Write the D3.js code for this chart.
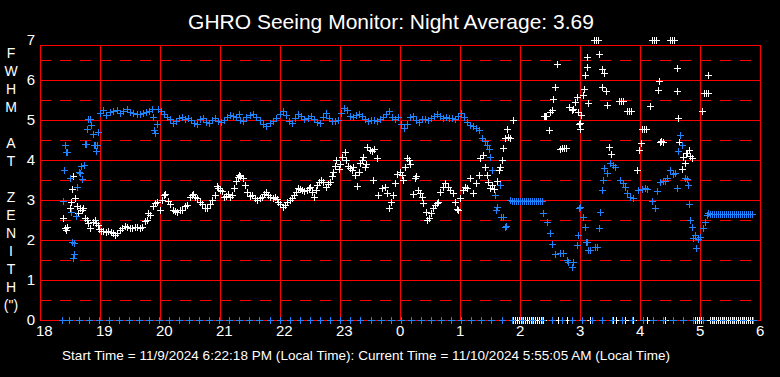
<!DOCTYPE html>
<html>
<head>
<meta charset="utf-8">
<script src="https://cdn.jsdelivr.net/npm/d3@7"></script>
<style>
  html, body { margin: 0; padding: 0; background: #000; }
  svg text { font-family: "Liberation Sans", Arial, sans-serif; fill: #fff; }
</style>
</head>
<body>
<div id="seeing-chart"></div>
<script>
// minutes after 18:00 local, FWHM in arcsec
var blueSeries = [
  [23,2.98],[24,3.74],[25,4.37],[26,4.19],[27,4.2],[30,3.56],[31,2.69],[32,1.94],[33,1.54],[34,1.93],[34,1.64],[36,2.6],[37,3.33],[39,3.69],[40,3.67],[41,3.84],[42,3.52],[44,3.87],[45,4.39],[46,4.4],[47,4.77],[48,5.02],[50,5.02],[51,4.88],[53,4.64],[54,4.38],[55,4.37],[56,4.22],[57,4.38],[58,4.69],
  [60,5.17],[63,5.25],[66,5.12],[70,5.2],[73,5.22],[77,5.25],[80,5.17],[83,5.22],[87,5.27],[90,5.2],[93,5.17],[97,5.15],[100,5.15],[103,5.17],[106,5.2],[109,5.22],[112,5.27],[113,5.07],[114,4.75],[115,4.68],[117,4.9],[118,5.27],[121,5.22],[124,5.15],[127,5.07],[130,5.02],[133,4.92],[136,4.97],[139,5.05],[142,5.07],[145,5.02],[148,5.05],[151,5.0],[154,4.92],[157,4.9],[160,5.02],[163,5.05],[166,4.95],[169,4.92],[172,5.0],[175,5.05],[178,4.97],[181,4.95],[184,5.0],[187,5.07],[190,5.12],[193,5.1],[196,5.07],[199,5.15],
  [200,5.0],[203,4.97],[206,5.07],[210,5.12],[213,5.15],[216,5.07],[220,5.0],[223,4.9],[226,4.85],[230,4.92],[233,4.97],[236,5.05],[240,5.15],[243,5.22],[246,5.12],[249,4.97],[252,4.92],[255,5.05],[258,5.15],[261,5.1],[264,5.02],[268,5.05],[271,5.1],[274,5.02],[277,4.95],[280,4.92],[283,5.07],[286,5.17],[289,5.05],[292,4.97],[295,4.97],[298,5.0],
  [301,5.17],[304,5.3],[307,5.25],[310,5.1],[313,5.07],[316,5.12],[319,5.15],[322,5.1],[325,5.02],[328,4.97],[331,5.0],[334,5.0],[337,4.97],[340,5.02],[343,5.07],[346,5.15],[349,5.22],[352,5.07],[355,5.02],[358,5.07],[361,4.9],[364,4.8],[367,4.9],[370,5.07],[373,5.1],[376,5.0],[379,4.95],[382,5.02],[385,5.02],[388,5.0],[391,5.05],[394,5.1],[397,5.15],
  [400,5.1],[403,5.05],[406,5.07],[409,5.05],[412,5.05],[415,5.02],[418,5.1],[421,5.17],[424,5.07],[427,4.95],[430,4.87],[433,4.85],[436,4.8],[439,4.75],[442,4.55],[445,4.47],[447,4.37],[449,4.27],[450,4.08],[452,3.75],[455,3.12],[456,2.75],[457,2.83],[460,3.37],[461,2.58],[463,2.58],[465,2.33],[466,2.35],[470,3.0],
  [472,2.97],[474,2.97],[476,2.97],[478,2.97],[480,2.97],[482,2.97],[484,2.97],[486,2.97],[488,2.97],[490,2.97],[492,2.97],[494,2.97],[496,2.97],[498,2.97],[500,2.97],[502,2.97],
  [503,2.67],[507,2.45],[510,2.17],[512,1.9],[515,1.65],[520,1.67],[523,1.67],[527,1.5],[528,1.46],[532,1.33],[533,1.45],[537,1.87],[538,2.12],[539,2.79],[540,2.83],[543,2.58],[545,2.33],[546,1.96],[547,1.96],[548,1.75],[550,1.75],[555,1.83],[557,1.83],[559,2.29],[560,2.71],[562,3.25],[563,3.5],[564,3.79],[567,3.67],[570,3.92],[573,3.87],[575,3.83],[580,3.5],[583,3.42],[585,3.33],[587,3.17],[590,3.07],[593,3.04],[598,3.25],
  [602,3.27],[605,3.29],[607,3.27],[612,2.98],[615,2.79],[617,3.22],[620,3.46],[623,3.48],[625,3.48],[627,3.55],[630,3.75],[633,3.65],[635,3.67],[637,3.29],[638,4.22],[640,4.62],[642,4.37],[645,3.55],[647,3.52],[648,3.37],[649,2.9],[650,2.5],[652,2.33],[653,2.04],[655,2.12],[656,1.79],[658,2.02],[660,2.07],[663,2.3],[665,2.46],[667,2.62],[668,2.67],
  [670,2.64],[672,2.64],[674,2.64],[676,2.64],[678,2.64],[680,2.64],[682,2.64],[684,2.64],[686,2.64],[688,2.64],[690,2.64],[692,2.64],[694,2.64],[696,2.64],[698,2.64],[700,2.64],[702,2.64],[704,2.64],[706,2.64],[708,2.64],[710,2.64],[712,2.64]
];

var whiteSeries = [
  [23,2.56],[25,2.3],[26,2.25],[27,2.32],[30,2.79],[31,2.96],[32,3.27],[33,3.61],[35,3.04],[37,2.85],[38,2.67],[40,2.8],[42,2.74],[43,2.79],[45,2.56],[47,2.5],[48,2.42],[50,2.29],[53,2.46],[55,2.5],[56,2.42],[58,2.37],[59,2.27],
  [61,2.22],[63,2.22],[66,2.21],[68,2.22],[71,2.21],[73,2.18],[75,2.12],[77,2.17],[80,2.25],[82,2.3],[85,2.36],[87,2.33],[90,2.29],[92,2.3],[95,2.32],[97,2.33],[100,2.29],[102,2.33],[105,2.47],[107,2.5],[108,2.67],[110,2.62],[113,2.85],[115,2.92],[117,2.96],[120,2.75],
  [122,3.0],[124,3.12],[125,3.14],[128,2.98],[130,2.9],[133,2.75],[135,2.72],[137,2.71],[140,2.75],[142,2.74],[145,2.85],[147,2.87],[150,3.08],[152,3.12],[153,3.14],[155,3.07],[157,3.04],[160,2.96],[162,2.9],[165,2.8],[167,2.79],[170,2.9],[172,3.0],[175,3.12],[177,3.35],[178,3.29],
  [180,3.25],[182,3.22],[184,3.08],[186,3.1],[188,3.14],[190,3.08],[192,3.12],[194,3.3],[196,3.48],[198,3.58],[199,3.62],[200,3.61],[203,3.54],[205,3.37],[207,3.21],[210,3.1],[212,3.12],[215,3.05],[217,3.0],[220,3.05],[222,3.08],[224,3.15],[226,3.19],[228,3.12],[230,3.08],[233,3.05],[235,3.08],[237,3.03],[238,2.96],
  [240,2.9],[243,2.83],[245,2.88],[247,2.96],[250,3.0],[252,3.05],[254,3.12],[256,3.2],[258,3.29],[260,3.27],[262,3.25],[264,3.22],[267,3.25],[269,3.3],[270,3.33],[272,3.2],[274,3.08],[276,3.25],[277,3.37],[279,3.45],[281,3.5],[283,3.45],[286,3.33],[288,3.4],[290,3.44],[292,3.6],[293,3.71],[295,3.85],[296,4.0],[299,3.77],
  [300,3.9],[302,4.08],[305,4.21],[306,4.0],[308,3.85],[310,3.79],[312,3.75],[313,3.83],[315,3.62],[317,3.36],[319,3.7],[320,3.92],[322,4.0],[323,4.08],[325,3.83],[326,3.9],[327,4.33],[330,4.25],[332,4.22],[333,3.5],[334,4.27],[337,4.04],[338,3.12],[342,3.29],[345,3.33],[347,3.17],[349,2.79],[351,2.96],[353,3.12],[355,3.42],[357,3.64],
  [360,3.69],[362,3.62],[363,3.5],[365,3.83],[367,4.06],[369,4.0],[370,3.89],[373,3.14],[375,3.54],[376,3.6],[378,3.25],[380,3.18],[382,3.08],[383,2.92],[386,2.71],[387,2.5],[389,2.55],[391,2.67],[393,2.8],[395,2.87],[397,2.93],[398,2.96],
  [400,3.21],[403,3.33],[405,3.42],[408,3.33],[410,3.25],[413,3.17],[415,2.96],[417,2.77],[418,2.75],[420,3.04],[423,3.25],[425,3.33],[427,3.29],[430,3.54],[433,3.17],[436,3.42],[439,3.62],[440,4.04],[443,4.12],[445,3.83],[447,3.62],[448,3.46],[450,3.3],[452,3.37],[454,3.27],[457,3.48],[459,3.75],
  [460,3.83],[462,4.0],[463,4.29],[465,4.54],[467,4.77],[468,4.58],[470,4.54],[473,5.0],
  [504,5.1],[505,5.1],[506,5.1],[509,4.75],[510,5.21],[512,5.25],[513,5.52],[515,5.82],[517,6.39],[520,4.27],[522,4.29],[524,4.29],[526,4.29],[529,5.32],[532,5.25],[533,5.27],[535,5.46],[537,5.58],[538,5.21],[539,4.89],[540,4.77],[540,4.92],[541,5.12],[543,5.62],[544,5.77],[545,6.12],[547,6.32],[547,6.58],[548,5.42],
  [554,7],[556,7],[558,7],[559,6.65],[562,6.27],[562,5.83],[564,6.17],[566,5.73],[567,5.37],[569,4.32],[571,4.14],[579,5.48],[581,5.48],[583,5.48],[587,5.22],[589,5.22],[591,5.22],[597,3.75],[599,4.25],
  [601,4.42],[602,4.77],[604,4.77],[606,4.77],[610,5.35],[612,7],[614,7],[616,7],[618,5.75],[619,5.97],[620,4.46],[621,4.48],[623,4.46],[630,7],[632,7],[634,7],[637,6.29],[637,5.72],[638,5.04],[639,4.46],[642,3.77],[643,4.08],[645,3.92],[646,4.17],[647,4.17],[649,4.25],[650,4.1],[652,4.04],
  [662,5.22],[664,5.67],[666,5.67],[668,5.67],[668,6.12]
];

// readings logged as zero (no measurement)
var blueZeroMinutes = [22,29,39,49,59,69,79,89,99,109,119,129,139,149,159,169,179,189,199,209,219,230,240,250,260,270,280,290,300,310,320,331,341,351,361,371,381,391,401,411,421,431,441,451,462,472,482,492,502,512,522,532,542,552,562,572,582,592,603,613,623,633,643,653,663,673,683,693,703,713];
var whiteZeroMinutes = [473,475,477,479,481,483,485,487,489,491,493,495,497,499,501,503,518,527,550,573,576,585,593,607,625,655,657,659,661,670,672,674,676,678,680,682,684,686,688,690,692,694,696,698,700,702,704,706,708,710,712];

var hourLabels = ["18","19","20","21","22","23","0","1","2","3","4","5","6"];
var fwhmTicks = [0,1,2,3,4,5,6,7];
var halfTicks = [0.5,1.5,2.5,3.5,4.5,5.5,6.5];
var yTitle = ["F","W","H","M","","A","T","","Z","E","N","I","T","H","(\")"];

var titleText = "GHRO Seeing Monitor: Night Average: 3.69";
var footerText = "Start Time = 11/9/2024 6:22:18 PM (Local Time): Current Time = 11/10/2024 5:55:05 AM (Local Time)";

var outerWidth = 780,
    outerHeight = 377,
    plot = { left: 40, right: 760, top: 45, bottom: 320 };

var svg = d3.select("#seeing-chart").append("svg")
    .attr("width", outerWidth)
    .attr("height", outerHeight)
    .style("display", "block")
    .style("background", "#000");

var x = d3.scaleLinear().domain([0, 720]).range([plot.left, plot.right]);
var y = d3.scaleLinear().domain([0, 7]).range([plot.bottom, 40]);

var red = "#ff0000", blue = "#1f84ff";

var grid = svg.append("g").attr("shape-rendering", "crispEdges");

// half-unit dashed lines, dash restarts every hour
grid.selectAll("line.half")
    .data(halfTicks)
  .enter().append("line")
    .attr("class", "half")
    .attr("x1", plot.left)
    .attr("x2", plot.right)
    .attr("y1", d => Math.round(y(d)) + 0.5)
    .attr("y2", d => Math.round(y(d)) + 0.5)
    .attr("stroke", red)
    .attr("stroke-width", 1)
    .attr("stroke-dasharray", "11,9");

grid.selectAll("line.whole")
    .data(fwhmTicks.filter(d => d > 0 && d < 7))
  .enter().append("line")
    .attr("class", "whole")
    .attr("x1", plot.left)
    .attr("x2", plot.right)
    .attr("y1", d => Math.round(y(d)) + 0.5)
    .attr("y2", d => Math.round(y(d)) + 0.5)
    .attr("stroke", red)
    .attr("stroke-width", 1);

grid.selectAll("line.hour")
    .data(hourLabels)
  .enter().append("line")
    .attr("class", "hour")
    .attr("x1", (d, i) => Math.round(x(i * 60)) + 0.5)
    .attr("x2", (d, i) => Math.round(x(i * 60)) + 0.5)
    .attr("y1", plot.top)
    .attr("y2", plot.bottom)
    .attr("stroke", red)
    .attr("stroke-width", 1);

grid.append("rect")
    .attr("x", plot.left + 0.5)
    .attr("y", plot.top + 0.5)
    .attr("width", plot.right - plot.left)
    .attr("height", plot.bottom - plot.top)
    .attr("fill", "none")
    .attr("stroke", red)
    .attr("stroke-width", 1);

// axis labels
svg.append("g").selectAll("text")
    .data(fwhmTicks)
  .enter().append("text")
    .attr("x", 35)
    .attr("y", d => y(d))
    .attr("dy", "0.36em")
    .attr("text-anchor", "end")
    .attr("font-size", "15px")
    .text(d => d);

svg.append("g").selectAll("text")
    .data(hourLabels)
  .enter().append("text")
    .attr("x", (d, i) => x(i * 60) - 4)
    .attr("y", 336)
    .attr("text-anchor", "start")
    .attr("font-size", "15px")
    .text(d => d);

svg.append("g").selectAll("text")
    .data(yTitle)
  .enter().append("text")
    .attr("x", 11)
    .attr("y", (d, i) => 53 + i * 18)
    .attr("dy", "0.36em")
    .attr("text-anchor", "middle")
    .attr("font-size", "14px")
    .text(d => d);

svg.append("text")
    .attr("x", 391)
    .attr("y", 29)
    .attr("text-anchor", "middle")
    .attr("font-size", "21px")
    .text(titleText);

svg.append("text")
    .attr("x", 62)
    .attr("y", 360)
    .attr("font-size", "13.5px")
    .attr("textLength", 608)
    .attr("lengthAdjust", "spacing")
    .text(footerText);

// plus markers
function cross(d) {
  var cx = Math.round(x(d[0])) + 0.5,
      cy = Math.round(y(d[1])) + 0.5;
  return "M" + (cx - 3.5) + "," + cy + "h7M" + cx + "," + (cy - 3.5) + "v7";
}

function drawSeries(data, color) {
  svg.append("g")
      .attr("shape-rendering", "crispEdges")
    .selectAll("path")
      .data(data)
    .enter().append("path")
      .attr("d", cross)
      .attr("stroke", color)
      .attr("stroke-width", 1)
      .attr("fill", "none");
}

drawSeries(whiteSeries.concat(whiteZeroMinutes.map(m => [m, 0])), "#ffffff");
drawSeries(blueSeries.concat(blueZeroMinutes.map(m => [m, 0])), blue);
</script>
</body>
</html>
